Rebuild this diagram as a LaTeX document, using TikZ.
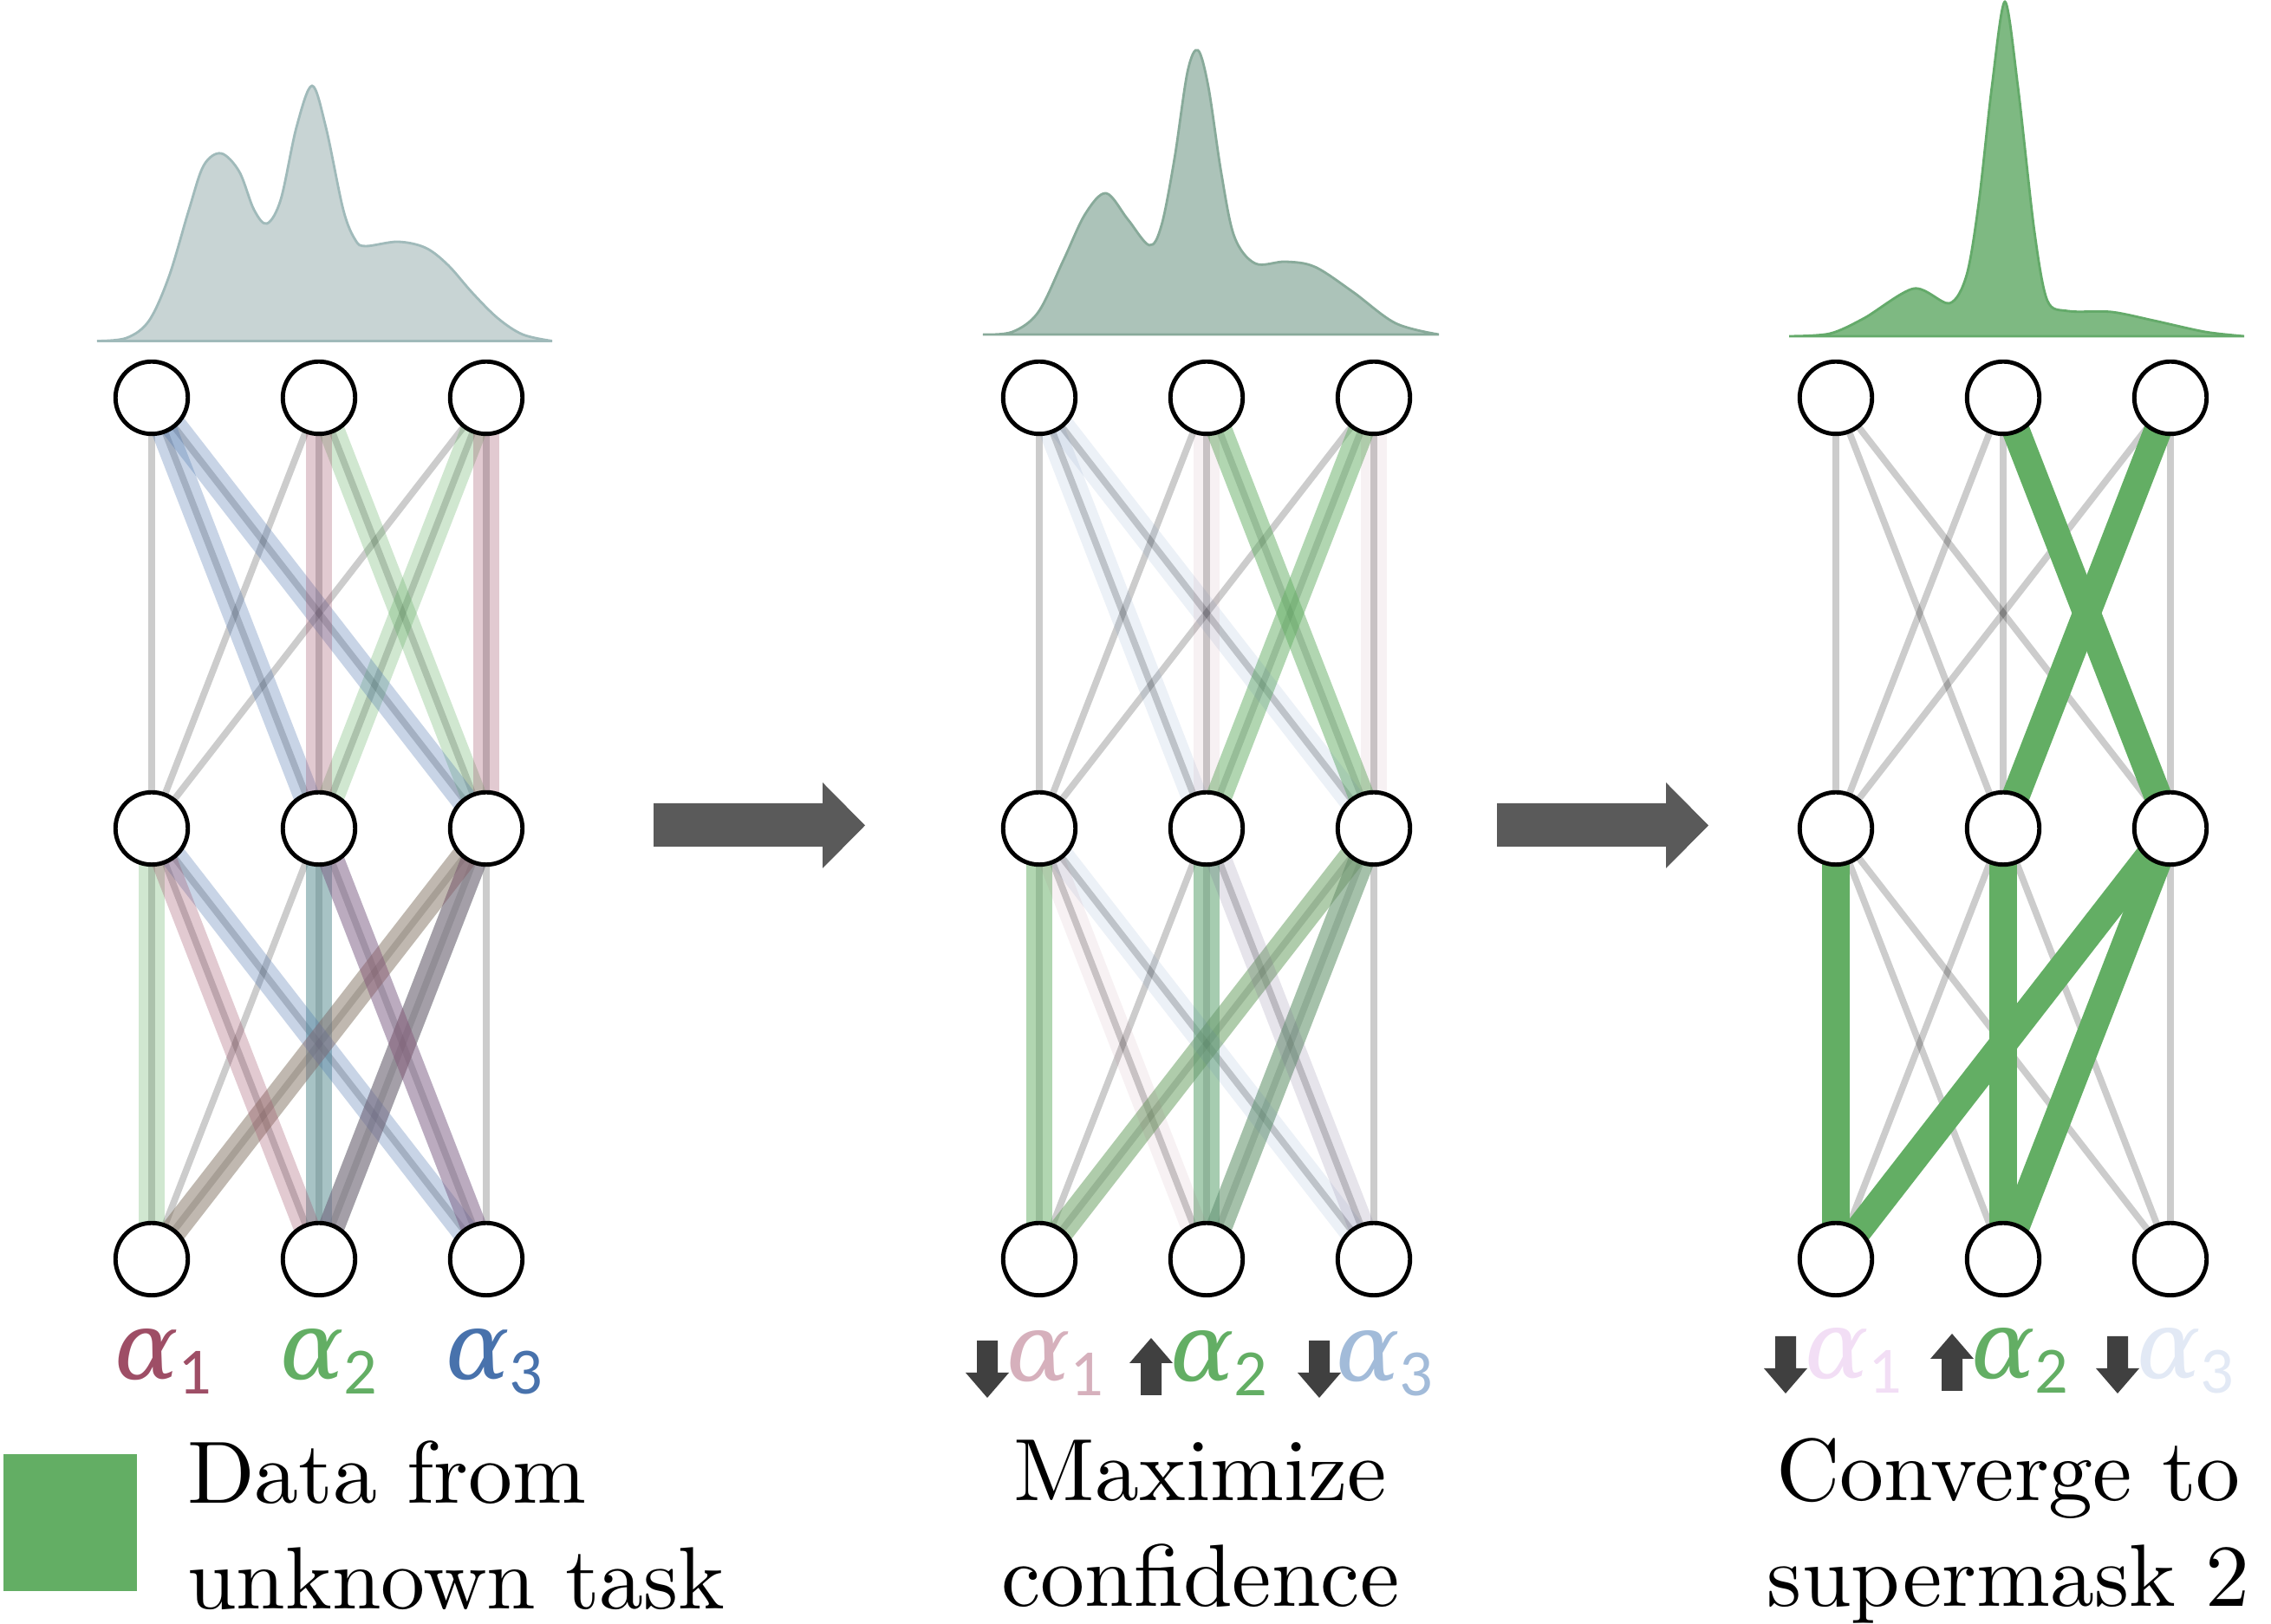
\documentclass[tikz,border=0pt]{standalone}
\usepackage{fontspec}
\newfontfamily\labelfont{Carlito}
\newfontfamily\greekfont{DejaVu Serif}
\usetikzlibrary{backgrounds}

\definecolor{maskred}{RGB}{158,78,102}
\definecolor{maskgreen}{RGB}{99,174,100}
\definecolor{maskblue}{RGB}{72,114,172}
\definecolor{fadered}{RGB}{214,176,188}
\definecolor{fadeblue}{RGB}{162,187,217}
\definecolor{ghostred}{RGB}{242,222,245}
\definecolor{ghostblue}{RGB}{226,233,245}
\definecolor{distfillA}{RGB}{200,212,212}
\definecolor{distlineA}{RGB}{160,186,186}
\definecolor{distfillB}{RGB}{172,195,185}
\definecolor{distlineB}{RGB}{136,170,154}
\definecolor{distfillC}{RGB}{126,185,130}
\definecolor{distlineC}{RGB}{100,170,106}
\definecolor{arrowgray}{RGB}{90,90,90}
\definecolor{tickgray}{RGB}{64,64,64}

\tikzset{
    unit/.style={circle, draw=black, fill=white, line width=1.4pt,
        minimum size=0.835cm, inner sep=0pt},
    wire/.style={line width=0.077cm, draw=black, opacity=0.2},
    band/.style={line width=0.3cm},
    alphalabel/.style={anchor=base, scale=3.1, inner sep=0pt, font=\labelfont},
    caption/.style={scale=2.9, inner sep=0pt, align=center},
    bigarrow/.style={fill=arrowgray},
    tick/.style={fill=tickgray}
}
\newcommand{\alphaof}[1]{{\greekfont\itshape α}\textsubscript{#1}}

\begin{document}
\begin{tikzpicture}
    \useasboundingbox (0,0) rectangle (26.2,18.74);

    % units of the three networks
    \foreach \p/\px in {1/1.75, 2/11.99, 3/21.18}{
        \foreach \c in {1,2,3}{
            \node[unit] (p\p-t\c) at ({\px+1.93*(\c-1)},14.15) {};
            \node[unit] (p\p-m\c) at ({\px+1.93*(\c-1)},9.18) {};
            \node[unit] (p\p-b\c) at ({\px+1.93*(\c-1)},4.21) {};
        }
    }

    \begin{pgfonlayer}{background}
        % all weights
        \foreach \p in {1,2,3}{
            \foreach \i in {1,2,3}{
                \foreach \j in {1,2,3}{
                    \draw[wire] (p\p-t\i.center) -- (p\p-m\j.center);
                    \draw[wire] (p\p-m\i.center) -- (p\p-b\j.center);
                }
            }
        }
        % supermasks 1, 2, 3 with their weights alpha
        \foreach \p/\ro/\go/\bo in {1/0.3/0.3/0.3, 2/0.08/0.5/0.1}{
            \foreach \a/\b in {t2/m3, t3/m2, m1/b1, m2/b2, m3/b1, m3/b2}
                \draw[band, maskgreen, opacity=\go] (p\p-\a.center) -- (p\p-\b.center);
            \foreach \a/\b in {t1/m2, t1/m3, m1/b3, m2/b2, m2/b3, m3/b2}
                \draw[band, maskblue, opacity=\bo] (p\p-\a.center) -- (p\p-\b.center);
            \foreach \a/\b in {t2/m2, t3/m3, m1/b2, m2/b3, m3/b1, m3/b2}
                \draw[band, maskred, opacity=\ro] (p\p-\a.center) -- (p\p-\b.center);
        }
        % converged to supermask 2
        \foreach \a/\b in {t2/m3, t3/m2, m1/b1, m2/b2, m3/b1, m3/b2}
            \draw[band, maskgreen, line width=0.32cm] (p3-\a.center) -- (p3-\b.center);
    \end{pgfonlayer}

    % output distributions
    \filldraw[fill=distfillA, draw=distlineA, line width=0.8pt]
        plot[smooth, tension=0.55] coordinates {(1.12,14.805) (1.46,14.84) (1.72,15.04)
        (1.95,15.55) (2.18,16.32) (2.35,16.83) (2.55,16.97) (2.76,16.76) (2.93,16.32)
        (3.08,16.16) (3.24,16.44) (3.42,17.27) (3.60,17.75) (3.76,17.27) (3.96,16.32)
        (4.10,15.97) (4.22,15.90) (4.59,15.95) (4.91,15.88) (5.17,15.68) (5.45,15.36)
        (5.74,15.07) (6.03,14.88) (6.37,14.805)} -- cycle;
    \filldraw[fill=distfillB, draw=distlineB, line width=0.8pt]
        plot[smooth, tension=0.55] coordinates {(11.34,14.88) (11.68,14.91) (11.98,15.14)
        (12.27,15.74) (12.52,16.27) (12.76,16.51) (13.01,16.21) (13.26,15.91)
        (13.40,16.14) (13.55,16.91) (13.70,17.91) (13.82,18.16) (13.94,17.74)
        (14.09,16.74) (14.24,16.01) (14.48,15.70) (14.83,15.72) (15.17,15.66)
        (15.61,15.37) (16.10,15.01) (16.60,14.88)} -- cycle;
    \filldraw[fill=distfillC, draw=distlineC, line width=0.8pt]
        plot[smooth, tension=0.5] coordinates {(20.64,14.86) (21.11,14.89) (21.51,15.07)
        (22.08,15.41) (22.49,15.24) (22.69,15.57) (22.83,16.41) (22.98,17.74)
        (23.13,18.72) (23.28,17.74) (23.47,16.07) (23.62,15.27) (23.86,15.15)
        (24.36,15.14) (24.85,15.04) (25.44,14.91) (25.89,14.86)} -- cycle;

    % steps between the networks
    \foreach \x in {0,9.73}{
        \fill[bigarrow, xshift=\x cm]
            (7.54,8.97) -- (9.49,8.97) -- (9.49,8.72) -- (9.98,9.215)
            -- (9.49,9.71) -- (9.49,9.47) -- (7.54,9.47) -- cycle;
    }

    % alpha labels
    \node[alphalabel, text=maskred] (a11) at (1.91,2.82) {\alphaof{1}};
    \node[alphalabel, text=maskgreen] (a12) at (3.82,2.82) {\alphaof{2}};
    \node[alphalabel, text=maskblue] (a13) at (5.73,2.82) {\alphaof{3}};
    \node[alphalabel, text=fadered] (a21) at (12.20,2.80) {\alphaof{1}};
    \node[alphalabel, text=maskgreen] (a22) at (14.09,2.80) {\alphaof{2}};
    \node[alphalabel, text=fadeblue] (a23) at (16.00,2.80) {\alphaof{3}};
    \node[alphalabel, text=ghostred] (a31) at (21.41,2.83) {\alphaof{1}};
    \node[alphalabel, text=maskgreen] (a32) at (23.33,2.83) {\alphaof{2}};
    \node[alphalabel, text=ghostblue] (a33) at (25.24,2.83) {\alphaof{3}};

    % up / down ticks
    \foreach \x/\y/\r in {11.39/2.61/0, 13.28/3.30/180, 15.22/2.61/0,
                          20.60/2.66/0, 22.52/3.35/180, 24.43/2.66/0}{
        \fill[tick, shift={(\x,\y)}, rotate=\r]
            (-0.12,0.66) -- (-0.12,0.29) -- (-0.25,0.29) -- (0,0)
            -- (0.25,0.29) -- (0.12,0.29) -- (0.12,0.66) -- cycle;
    }

    % legend and captions
    \fill[maskgreen] (0.035,0.38) rectangle (1.58,1.96);
    \node[caption, align=left, anchor=base west] (data) at (2.14,0.17) {Data from\\unknown task};
    \node[caption, anchor=base] (maxconf) at (13.85,0.20) {Maximize\\confidence};
    \node[caption, anchor=base] (converge) at (23.17,0.20) {Converge to\\supermask 2};
\end{tikzpicture}
\end{document}
